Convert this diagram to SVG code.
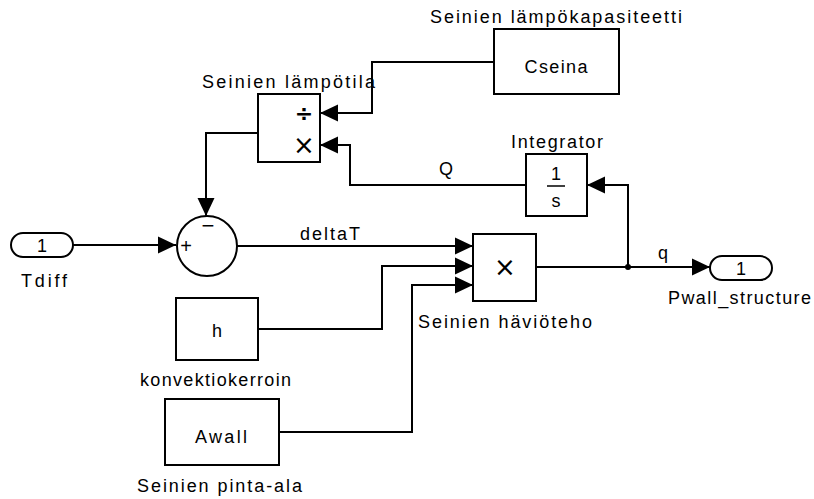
<svg xmlns="http://www.w3.org/2000/svg" width="814" height="499" viewBox="0 0 814 499">
<defs>
<style>
.blk{fill:#fff;stroke:#000;stroke-width:2}
.ln{fill:none;stroke:#000;stroke-width:2}
.t{font-family:"Liberation Sans",Arial,sans-serif;font-size:18px;fill:#000}
.c{text-anchor:middle}
.sym{font-family:"DejaVu Sans","Liberation Sans",sans-serif;font-size:26px;text-anchor:middle;fill:#000}
</style>
<marker id="ar" viewBox="0 0 18 18" refX="18" refY="9" markerWidth="18" markerHeight="18" markerUnits="userSpaceOnUse" orient="auto">
<path d="M0,0.5 L18,9 L0,17.5 z" fill="#000"/>
</marker>
</defs>
<rect width="814" height="499" fill="#fff"/>

<g id="connectors">
<path class="ln" d="M73,245 H176" marker-end="url(#ar)"/>
<path class="ln" d="M258,133 H206 V216" marker-end="url(#ar)"/>
<path class="ln" d="M237,246 H473" marker-end="url(#ar)"/>
<path class="ln" d="M494,62 H372 V113 H320" marker-end="url(#ar)"/>
<path class="ln" d="M526,185 H350 V145 H320" marker-end="url(#ar)"/>
<path class="ln" d="M258,329 H382 V266 H473" marker-end="url(#ar)"/>
<path class="ln" d="M279,432 H412 V285 H473" marker-end="url(#ar)"/>
<path class="ln" d="M536,267 H710" marker-end="url(#ar)"/>
<path class="ln" d="M628,267 V185 H587" marker-end="url(#ar)"/>
<circle cx="628" cy="267" r="3" fill="#000"/>
<text class="t c" x="446" y="175">Q</text>
<text class="t c" x="330" y="240" textLength="60" lengthAdjust="spacing">deltaT</text>
<text class="t c" x="663" y="259">q</text>
</g>

<g id="Tdiff">
<rect class="blk" x="11" y="233" width="62" height="24" rx="12"/>
<text class="t c" x="42" y="252">1</text>
<text class="t" x="21" y="287" textLength="46" lengthAdjust="spacing">Tdiff</text>
</g>

<g id="Sum">
<circle class="blk" cx="207" cy="246" r="30"/>
<text class="t c" x="208" y="233" style="font-size:22px">−</text>
<text class="t c" x="186" y="253" style="font-size:20px">+</text>
</g>

<g id="SeinienLampotila">
<rect class="blk" x="258" y="94" width="62" height="68"/>
<text class="sym" x="304" y="121" style="font-size:22px;font-weight:bold">÷</text>
<text class="sym" x="304" y="154">×</text>
<text class="t" x="202" y="88" textLength="173" lengthAdjust="spacing">Seinien lämpötila</text>
</g>

<g id="Cseina">
<rect class="blk" x="494" y="29" width="125" height="65"/>
<text class="t c" x="556" y="73" textLength="63" lengthAdjust="spacing">Cseina</text>
<text class="t" x="430" y="23" textLength="252" lengthAdjust="spacing">Seinien lämpökapasiteetti</text>
</g>

<g id="Integrator">
<rect class="blk" x="526" y="154" width="61" height="62"/>
<text class="t c" x="556" y="180">1</text>
<line x1="547" y1="186" x2="565" y2="186" stroke="#000" stroke-width="1.5"/>
<text class="t c" x="556" y="207">s</text>
<text class="t" x="511" y="148" textLength="92" lengthAdjust="spacing">Integrator</text>
</g>

<g id="Product">
<rect class="blk" x="473" y="234" width="63" height="67"/>
<text class="sym" x="505" y="276">×</text>
<text class="t" x="418" y="328" textLength="174" lengthAdjust="spacing">Seinien häviöteho</text>
</g>

<g id="h">
<rect class="blk" x="176" y="298" width="82" height="62"/>
<text class="t c" x="217" y="337">h</text>
<text class="t" x="140" y="386" textLength="151" lengthAdjust="spacing">konvektiokerroin</text>
</g>

<g id="Awall">
<rect class="blk" x="165" y="399" width="114" height="66"/>
<text class="t c" x="221" y="443" textLength="52" lengthAdjust="spacing">Awall</text>
<text class="t" x="137" y="492" textLength="165" lengthAdjust="spacing">Seinien pinta-ala</text>
</g>

<g id="Pwall_structure">
<rect class="blk" x="710" y="256" width="62" height="24" rx="12"/>
<text class="t c" x="741" y="275">1</text>
<text class="t" x="668" y="304" textLength="143" lengthAdjust="spacing">Pwall_structure</text>
</g>
</svg>
